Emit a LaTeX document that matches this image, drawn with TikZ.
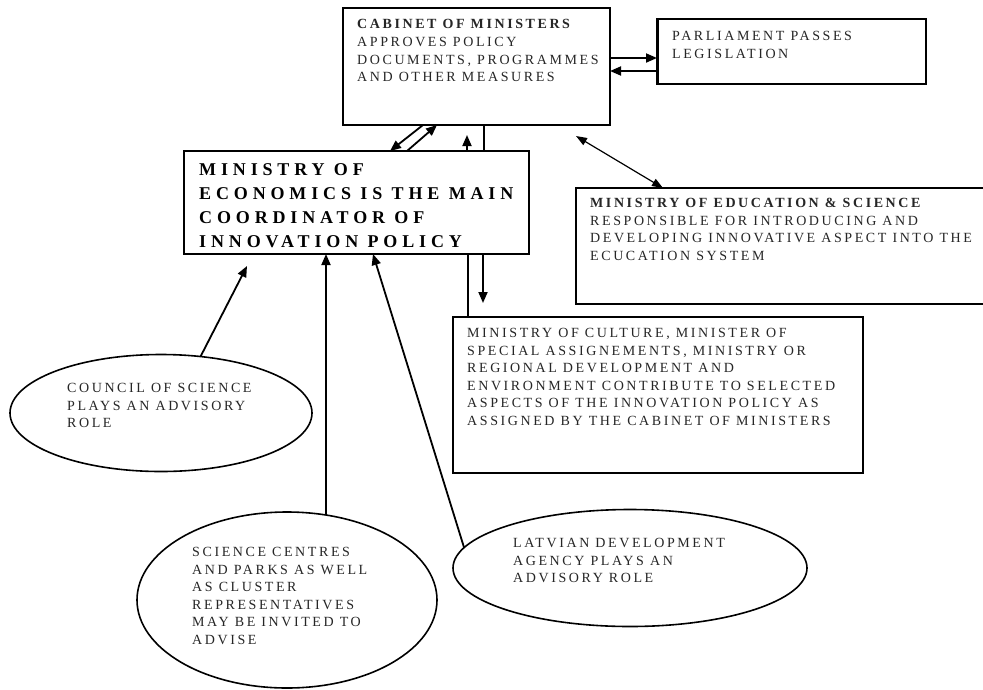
\documentclass[tikz,border=0pt]{standalone}
\usepackage{fontspec}
\setmainfont{Liberation Serif}
\newfontfamily\trk{Liberation Serif}[LetterSpace=18.5]
\newfontfamily\trkb{Liberation Serif}[LetterSpace=27]
\usetikzlibrary{arrows.meta,shapes.geometric,calc}
\begin{document}
\begin{tikzpicture}[x=1pt,y=-1pt,
  box/.style={draw, line width=2pt, anchor=north west, inner sep=0pt, outer sep=0pt},
  ell/.style={draw, ellipse, line width=1.6pt, inner sep=0pt, outer sep=0pt},
  txt/.style={anchor=north west, inner sep=0pt, align=left, text=black!85, font=\trk\fontsize{14}{17.6}\selectfont},
  big/.style={anchor=north west, inner sep=0pt, align=left, font=\trkb\bfseries\fontsize{18}{24}\selectfont},
  arr/.style={line width=1.8pt, -{Triangle[length=11pt,width=9pt]}},
  ln/.style={line width=1.8pt},
]
\path[use as bounding box, clip] (0,0) rectangle (983,689);
\fill[white] (0,0) rectangle (983,689);

% boxes
\node[box, minimum width=267pt, minimum height=117pt] (cab) at (343,8) {};
\node[box, minimum width=269pt, minimum height=65pt] (parl) at (657,19) {};
\node[box, minimum width=345pt, minimum height=103pt] (moe) at (184,151) {};
\node[box, minimum width=420pt, minimum height=116pt] (edu) at (576,188) {};
\node[box, minimum width=410pt, minimum height=156pt] (cul) at (453,317) {};
\draw[line width=3pt] (parl.north west) -- (parl.south west);

% ellipses
\node[ell, minimum width=302pt, minimum height=117pt] (cou) at (161,413) {};
\node[ell, minimum width=300pt, minimum height=176pt] (sci) at (287,600) {};
\node[ell, minimum width=354pt, minimum height=117pt] (lat) at (630,568) {};

% texts
\node[txt] (cabt) at (357,19.5) {\textbf{CABINET OF MINISTERS}\\APPROVES POLICY\\DOCUMENTS, PROGRAMMES\\AND OTHER MEASURES};
\node[txt] (parlt) at (672,31) {PARLIAMENT PASSES\\LEGISLATION};
\node[big] (moet) at (199,163) {MINISTRY OF\\ECONOMICS IS THE MAIN\\COORDINATOR OF\\INNOVATION POLICY};
\node[txt] (edut) at (590,198) {\textbf{MINISTRY OF EDUCATION \& SCIENCE}\\RESPONSIBLE FOR INTRODUCING AND\\DEVELOPING INNOVATIVE ASPECT INTO THE\\ECUCATION SYSTEM};
\node[txt] (cult) at (467,328) {MINISTRY OF CULTURE, MINISTER OF\\SPECIAL ASSIGNEMENTS, MINISTRY OR\\REGIONAL DEVELOPMENT AND\\ENVIRONMENT CONTRIBUTE TO SELECTED\\ASPECTS OF THE INNOVATION POLICY AS\\ASSIGNED BY THE CABINET OF MINISTERS};
\node[txt] (cout) at (67,383) {COUNCIL OF SCIENCE\\PLAYS AN ADVISORY\\ROLE};
\node[txt] (scit) at (192,547) {SCIENCE CENTRES\\AND PARKS AS WELL\\AS CLUSTER\\REPRESENTATIVES\\MAY BE INVITED TO\\ADVISE};
\node[txt] (latt) at (513,538) {LATVIAN DEVELOPMENT\\AGENCY PLAYS AN\\ADVISORY ROLE};

% free ends
\coordinate (uptip) at (467,135);
\coordinate (dntip) at (483,303);
\coordinate (edutip) at (576,136);
\coordinate (coutip) at (247,266);

% connectors
\draw[arr] (cab.east |- 0,58) -- (parl.west |- 0,58);
\draw[arr] (parl.west |- 0,71) -- (cab.east |- 0,71);
\draw[arr] (cab.south -| 423,0) -- (moe.north -| 390,0);
\draw[arr] (moe.north -| 407,0) -- (cab.south -| 437,0);
\draw[arr] (moe.north -| 467,0) -- (uptip);
\draw[ln] (cab.south -| 484,0) -- (moe.north -| 484,0);
\draw[ln] (moe.south -| 468,0) -- (cul.north -| 468,0);
\draw[arr] (moe.south -| 483,0) -- (dntip);
\draw[line width=1.2pt, {Triangle[length=11pt,width=8pt]}-{Triangle[length=11pt,width=8pt]}] (edutip) -- (edu.north -| 663,0);
\draw[arr] (cou.55) -- (coutip);
\draw[arr] (sci.65 -| 326,0) -- (moe.south -| 326,0);
\draw[arr] (lat.173) -- (moe.south -| 373,0);
\end{tikzpicture}
\end{document}
